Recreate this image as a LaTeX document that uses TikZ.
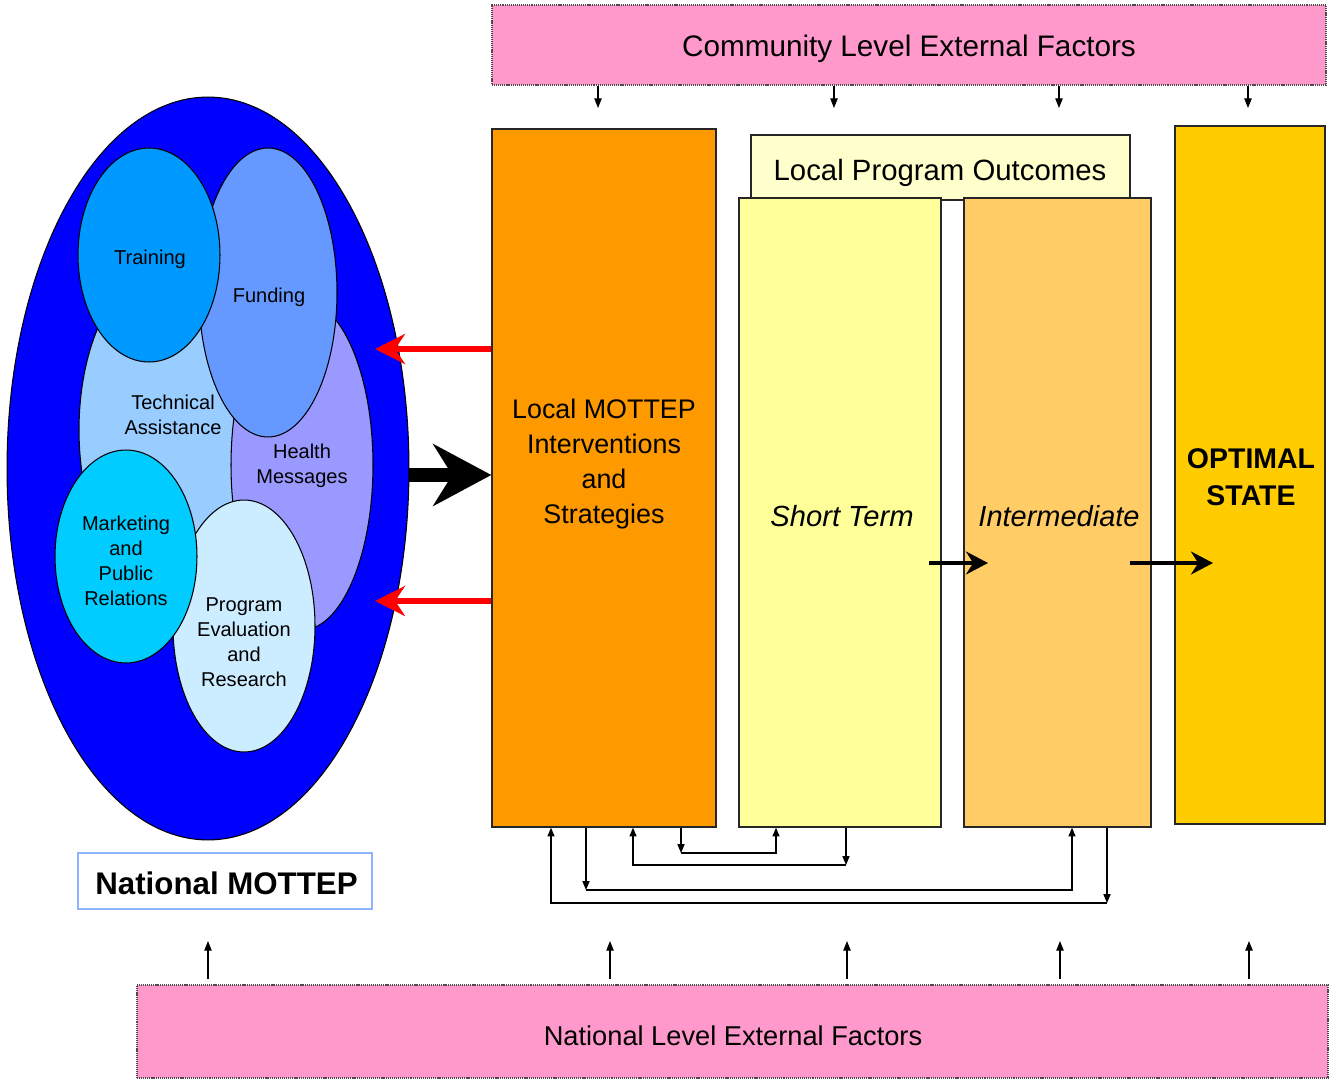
\documentclass[tikz,border=0pt]{standalone}
\usepackage{fontspec}
\setmainfont{Liberation Sans}
\usetikzlibrary{arrows.meta,shapes.geometric,fit}

\definecolor{pinkfill}{HTML}{FF99CC}
\definecolor{orangefill}{HTML}{FF9900}
\definecolor{lpofill}{HTML}{FFFFCC}
\definecolor{shortfill}{HTML}{FFFF99}
\definecolor{interfill}{HTML}{FFCC66}
\definecolor{optfill}{HTML}{FFCC00}
\definecolor{outerblue}{HTML}{0000FF}
\definecolor{trainc}{HTML}{0099FF}
\definecolor{fundc}{HTML}{6699FF}
\definecolor{techc}{HTML}{99CCFF}
\definecolor{healthc}{HTML}{9999FF}
\definecolor{marketc}{HTML}{00CCFF}
\definecolor{progc}{HTML}{CCECFF}
\definecolor{nmborder}{HTML}{8FB4FF}

\newcommand\setfs[2]{\fontsize{#1}{#2}\selectfont}

\begin{document}
\begin{tikzpicture}[x=0.02cm,y=-0.02cm,
  extbox/.style={fill=pinkfill, draw=black!70, line width=0.8pt,
    dash pattern=on 0.6pt off 0.5pt, inner sep=0pt},
  colbox/.style={draw=black!85, line width=0.75pt, inner sep=0pt},
  blob/.style 2 args={ellipse, draw=black, line width=0.6pt, inner sep=0pt,
    minimum width=#1, minimum height=#2},
  lbl/.style={align=center, inner sep=0pt},
  smallarr/.style={line width=0.7pt, -{Triangle[length=5.5pt,width=4.2pt]}},
  fb/.style={line width=0.7pt, -{Triangle[length=5pt,width=4pt]}},
  flowarr/.style={line width=2.8pt, -{Stealth[length=12.5pt,width=13pt]}},
  backarr/.style={red, line width=3.4pt, -{Stealth[length=17pt,width=17pt]}}
]
\useasboundingbox (0,0) rectangle (1338,1081);

% ---------- National MOTTEP cluster ----------
\node[blob={8.04cm}{14.86cm}, fill=outerblue] (nat) at (208,468.5) {};
\node[blob={3.28cm}{6.4cm}, fill=techc] (tech) at (161,430) {};
\node[blob={2.84cm}{6.6cm}, fill=healthc] (health) at (302,465) {};
\node[blob={2.76cm}{5.78cm}, fill=fundc] (fund) at (268,292.5) {};
\node[blob={2.84cm}{4.28cm}, fill=trainc] (train) at (149,255) {};
\node[blob={2.84cm}{5.04cm}, fill=progc] (prog) at (244,626) {};
\node[blob={2.84cm}{4.26cm}, fill=marketc] (market) at (126,556.5) {};

\node[lbl, font=\setfs{11.4pt}{14.3pt}] (ttrain) at (150,259) {Training};
\node[lbl, font=\setfs{11.4pt}{14.3pt}] (tfund) at (269,297) {Funding};
\node[lbl, font=\setfs{11.4pt}{14.3pt}] (ttech) at (173,415) {Technical\\Assistance};
\node[lbl, font=\setfs{11.4pt}{14.3pt}] (thealth) at (302,466) {Health\\Messages};
\node[lbl, font=\setfs{11.4pt}{14.3pt}] (tmarket) at (126,561) {Marketing\\and\\Public\\Relations};
\node[lbl, font=\setfs{11.4pt}{14.3pt}] (tprog) at (244,642.5) {Program\\Evaluation\\and\\Research};

\node[draw=nmborder, line width=1pt, fill=white, inner sep=0pt,
      fit={(78,853) (372,909)}] (nm) {};
\node[lbl, font=\setfs{17.8pt}{21pt}\bfseries] (tnm) at (226.5,883) {National MOTTEP};

% ---------- external factor bands ----------
\node[extbox, fit={(492,5) (1326,85)}] (comm) {};
\node[lbl, font=\setfs{16.9pt}{20pt}] (tcomm) at (909,49) {Community Level External Factors};
\node[extbox, fit={(137,985) (1328,1078)}] (natl) {};
\node[lbl, font=\setfs{15.5pt}{18pt}] (tnatl) at (733,1036) {National Level External Factors};

% ---------- local program columns ----------
\node[colbox, fill=orangefill, fit={(492,129) (716,827)}] (local) {};
\node[lbl, font=\setfs{15.3pt}{19.8pt}] (tlocal) at (604,464)
  {Local MOTTEP\\Interventions\\and\\Strategies};

\node[colbox, fill=lpofill, fit={(751,135) (1130,200)}] (lpo) {};
\node[lbl, font=\setfs{16.7pt}{20pt}] (tlpo) at (940,173) {Local Program Outcomes};

\node[colbox, fill=shortfill, fit={(739,198) (941,827)}] (short) {};
\node[lbl, font=\setfs{16.6pt}{20pt}\itshape] (tshort) at (842,516) {Short Term};

\node[colbox, fill=interfill, fit={(964,198) (1151,827)}] (inter) {};
\node[lbl, font=\setfs{16.5pt}{20pt}\itshape] (tinter) at (1059,516) {Intermediate};

\node[colbox, fill=optfill, fit={(1175,126) (1325,824)}] (opt) {};
\node[lbl, font=\setfs{16.2pt}{21pt}\bfseries] (topt) at (1251,477) {OPTIMAL\\STATE};

% ---------- community factors acting downward ----------
\foreach \i/\xx in {1/598,2/834,3/1059,4/1248}{
  \coordinate (cd\i) at (\xx,108);
  \draw[smallarr] (comm.south -| cd\i) -- (cd\i);
}

% ---------- national factors acting upward ----------
\foreach \i/\xx in {1/208,2/610,3/847,4/1060,5/1249}{
  \coordinate (nu\i) at (\xx,941);
  \draw[smallarr, shorten <=3.2pt] (natl.north -| nu\i) -- (nu\i);
}

% ---------- national to local ----------
\coordinate (bigy) at (0,475);
\draw[line width=7.5pt, -{Stealth[length=33pt,width=35pt]}]
  (nat.east |- bigy) -- (local.west |- bigy);
\coordinate (r1) at (375,349);
\coordinate (r2) at (375,601);
\draw[backarr] (local.west |- r1) -- (r1);
\draw[backarr] (local.west |- r2) -- (r2);

% ---------- outcome progression ----------
\coordinate (sa) at (929,563);
\coordinate (sb) at (988,563);
\coordinate (ia) at (1130,563);
\coordinate (ib) at (1213,563);
\draw[flowarr] (sa) -- (sb);
\draw[flowarr] (ia) -- (ib);

% ---------- feedback loops below the columns ----------
\coordinate (fa1) at (681,853);  \coordinate (fa2) at (776,853);
\draw[fb] (local.south -| fa1) -- (fa1);
\draw[fb] (fa1) -- (fa2) -- (short.south -| fa2);

\coordinate (fb1) at (846,865);  \coordinate (fb2) at (633,865);
\draw[fb] (short.south -| fb1) -- (fb1);
\draw[fb] (fb1) -- (fb2) -- (local.south -| fb2);

\coordinate (fc1) at (586,890);  \coordinate (fc2) at (1072,890);
\draw[fb] (local.south -| fc1) -- (fc1);
\draw[fb] (fc1) -- (fc2) -- (inter.south -| fc2);

\coordinate (fd1) at (1107,903); \coordinate (fd2) at (551,903);
\draw[fb] (inter.south -| fd1) -- (fd1);
\draw[fb] (fd1) -- (fd2) -- (local.south -| fd2);
\end{tikzpicture}
\end{document}
